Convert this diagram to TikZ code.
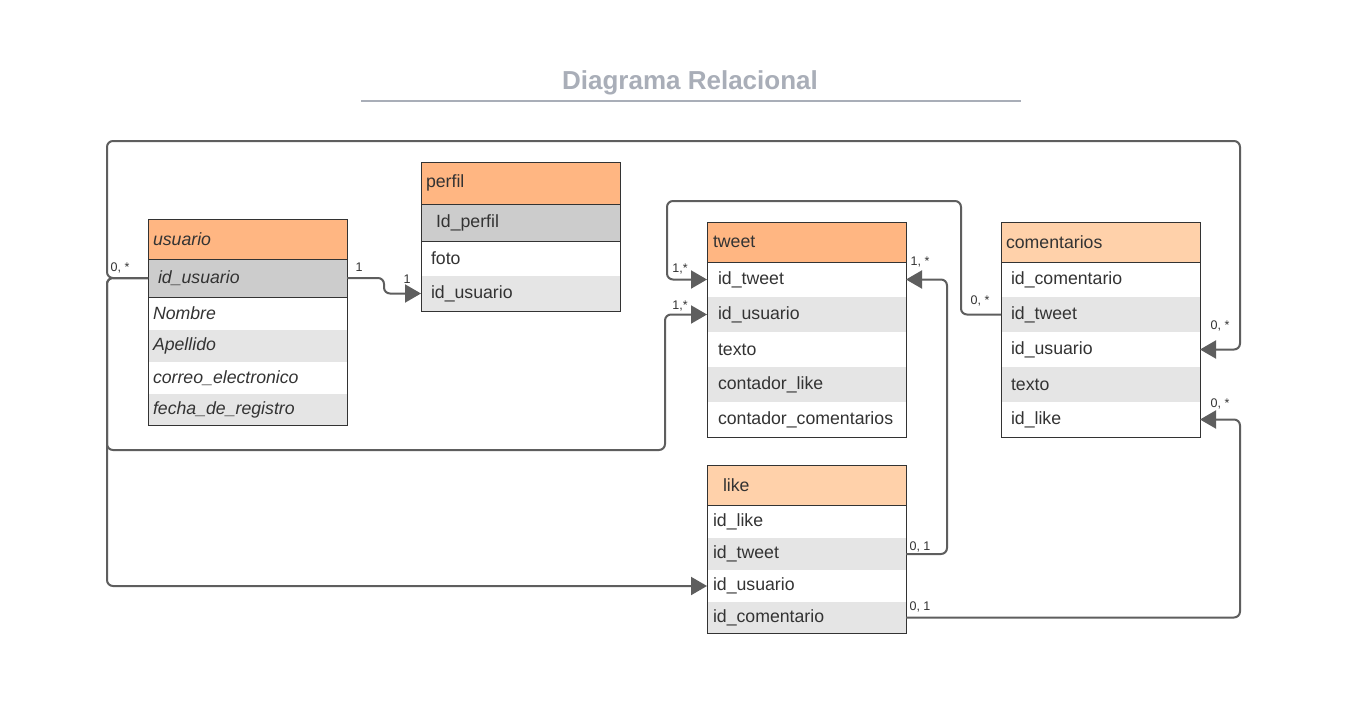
\documentclass[tikz,border=0pt]{standalone}
\usepackage{fontspec}
\setmainfont{Liberation Sans}
\usepackage{xcolor}
\definecolor{hdrdark}{RGB}{255,182,130}
\definecolor{hdrlight}{RGB}{255,209,170}
\definecolor{keygray}{RGB}{204,204,204}
\definecolor{stripe}{RGB}{229,229,229}
\definecolor{ink}{RGB}{51,51,51}
\definecolor{wire}{RGB}{94,94,94}
\definecolor{titlegray}{RGB}{169,174,184}
\usetikzlibrary{arrows.meta,positioning}

\begin{document}
\begin{tikzpicture}[x=1pt, y=-1pt,
  every node/.style={text=ink},
  cell/.style={inner xsep=0pt, inner ysep=0pt, outer sep=0pt, text width=199pt, align=left, minimum height=#1, font=\fontsize{17.7}{20}\selectfont},
  cell/.default=35pt,
  hdr/.style={cell=#1, fill=hdrdark},
  hdrlt/.style={cell=#1, fill=hdrlight},
  pad/.style={execute at begin node={\hspace*{#1}}},
  it/.style={font=\fontsize{17.7}{20}\selectfont\itshape},
  frame/.style={draw=ink, line width=1pt},
  link/.style={draw=wire, line width=2pt, rounded corners=6pt, -{Triangle[length=16pt, width=18pt]}},
  card/.style={font=\fontsize{12.5}{13}\selectfont, inner sep=1pt}
]
\path[fill=white, use as bounding box] (0,0) rectangle (1369,725);

% title
\node[font=\fontsize{26}{30}\selectfont\bfseries, text=titlegray] (title) at (690,83) {Diagrama Relacional};
\draw[titlegray, line width=2pt] (361,101) -- (1021,101);

% usuario
\node[hdr=40pt, anchor=north west, pad=5pt, it] (usuario) at (148,219) {usuario};
\node[cell=38pt, fill=keygray, below=0pt of usuario, pad=10pt, it] (u1) {id\_usuario};
\node[cell=33pt, fill=white, below=0pt of u1, pad=5pt, it] (u2) {Nombre};
\node[cell=32pt, fill=stripe, below=0pt of u2, pad=5pt, it] (u3) {Apellido};
\node[cell=32pt, fill=white, below=0pt of u3, pad=5pt, it] (u4) {correo\_electronico};
\node[cell=31pt, fill=stripe, below=0pt of u4, pad=5pt, it] (u5) {fecha\_de\_registro};
\draw[frame] (usuario.north west) rectangle (u5.south east);
\draw[frame] (usuario.south west) -- (usuario.south east);
\draw[frame] (u1.south west) -- (u1.south east);

% perfil
\node[hdr=42pt, anchor=north west, pad=5pt] (perfil) at (421,162) {perfil};
\node[cell=37pt, fill=keygray, below=0pt of perfil, pad=15pt] (p1) {Id\_perfil};
\node[cell, fill=white, below=0pt of p1, pad=10pt] (p2) {foto};
\node[cell, fill=stripe, below=0pt of p2, pad=10pt] (p3) {id\_usuario};
\draw[frame] (perfil.north west) rectangle (p3.south east);
\draw[frame] (perfil.south west) -- (perfil.south east);
\draw[frame] (p1.south west) -- (p1.south east);

% tweet
\node[hdr=40pt, anchor=north west, pad=6pt] (tweet) at (707,222) {tweet};
\node[cell, fill=white, below=0pt of tweet, pad=11pt] (t1) {id\_tweet};
\node[cell, fill=stripe, below=0pt of t1, pad=11pt] (t2) {id\_usuario};
\node[cell, fill=white, below=0pt of t2, pad=11pt] (t3) {texto};
\node[cell, fill=stripe, below=0pt of t3, pad=11pt] (t4) {contador\_like};
\node[cell, fill=white, below=0pt of t4, pad=11pt] (t5) {contador\_comentarios};
\draw[frame] (tweet.north west) rectangle (t5.south east);
\draw[frame] (tweet.south west) -- (tweet.south east);

% comentarios
\node[hdrlt=40pt, anchor=north west, pad=5pt] (comentarios) at (1001,222) {comentarios};
\node[cell, fill=white, below=0pt of comentarios, pad=10pt] (c1) {id\_comentario};
\node[cell, fill=stripe, below=0pt of c1, pad=10pt] (c2) {id\_tweet};
\node[cell, fill=white, below=0pt of c2, pad=10pt] (c3) {id\_usuario};
\node[cell, fill=stripe, below=0pt of c3, pad=10pt] (c4) {texto};
\node[cell, fill=white, below=0pt of c4, pad=10pt] (c5) {id\_like};
\draw[frame] (comentarios.north west) rectangle (c5.south east);
\draw[frame] (comentarios.south west) -- (comentarios.south east);

% like
\node[hdrlt=40pt, anchor=north west, pad=16pt] (like) at (707,465) {like};
\node[cell=33pt, fill=white, below=0pt of like, pad=6pt] (l1) {id\_like};
\node[cell=32pt, fill=stripe, below=0pt of l1, pad=6pt] (l2) {id\_tweet};
\node[cell=32pt, fill=white, below=0pt of l2, pad=6pt] (l3) {id\_usuario};
\node[cell=31pt, fill=stripe, below=0pt of l3, pad=6pt] (l4) {id\_comentario};
\draw[frame] (like.north west) rectangle (l4.south east);
\draw[frame] (like.south west) -- (like.south east);

% relations
\draw[link] (u1.east) -- ++(37,0) |- (p3.west);
\draw[link] (u1.west) -- ++(-41,0) |- (1240,141) |- (c3.east);
\draw[link] (u1.west) -- ++(-41,0) |- (665,450) |- (t2.west);
\draw[link] (u1.west) -- ++(-41,0) |- (l3.west);
\draw[link] (c2.west) -- ++(-40,0) |- (667,201) |- (t1.west);
\draw[link] (l2.east) -- ++(41,0) |- (t1.east);
\draw[link] (l4.east) -- ++(334,0) |- (c5.east);

% cardinalities
\node[card] (k1) at (120,268) {0, *};
\node[card] (k2) at (359,267) {1};
\node[card] (k3) at (407,279) {1};
\node[card] (k4) at (680,269) {1,*};
\node[card] (k5) at (680,306) {1,*};
\node[card] (k6) at (920,262) {1, *};
\node[card] (k7) at (980,301) {0, *};
\node[card] (k8) at (1220,326) {0, *};
\node[card] (k9) at (1220,404) {0, *};
\node[card] (k10) at (920,547) {0, 1};
\node[card] (k11) at (920,607) {0, 1};
\end{tikzpicture}
\end{document}
